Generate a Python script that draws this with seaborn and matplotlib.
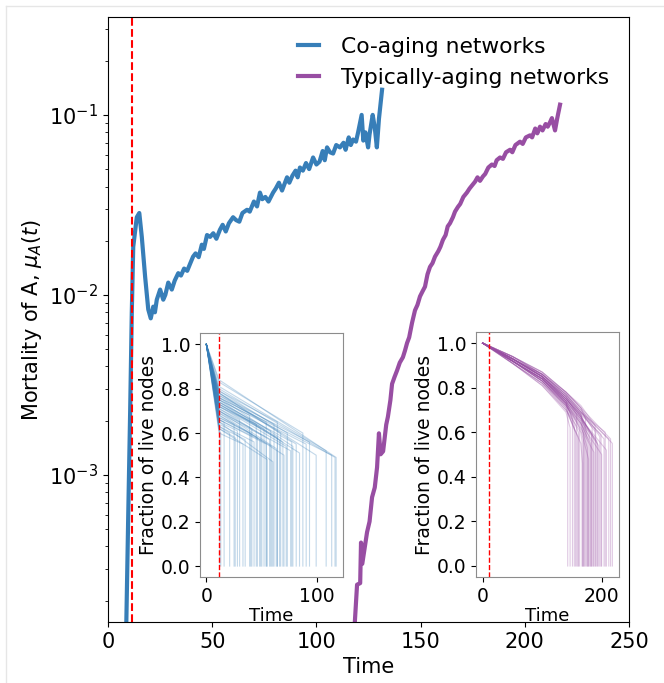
import pandas as pd
import seaborn as sns
import matplotlib.pyplot as plt
from matplotlib.lines import Line2D

# onset of the co-aging phase (red dashed line)
onset = 11.5

# mortality curves
co_t = [8.5, 9.7, 10.6, 11.4, 12.1, 13.8, 15.0, 16.2, 17.8, 19.3, 20.5, 21.7, 22.5, 23.4, 25.0,
        26.5, 27.5, 28.9, 30.6, 32.0, 33.7, 35.0, 36.5, 38.0, 39.5, 40.8, 42.0, 43.5, 45.0, 46.0,
        47.5, 49.0, 50.5, 52.0, 53.7, 55.0, 56.5, 58.0, 60.0, 61.5, 63.0, 64.5, 66.7, 68.0, 70.0,
        71.5, 72.9, 74.0, 75.5, 77.0, 79.2, 80.5, 82.0, 83.5, 85.9, 87.0, 88.5, 90.0, 91.0, 92.1,
        93.5, 95.0, 96.5, 98.4, 100.0, 101.5, 103.0, 104.0, 105.1, 106.5, 108.0, 109.5, 111.3,
        113.0, 114.0, 115.5, 116.5, 117.6, 119.0, 120.0, 121.7, 122.5, 123.5, 124.8, 125.5,
        127.0, 128.0, 129.0, 130.0, 131.5]
co_mu = [1.0e-4, 6.0e-4, 2.2e-3, 8.0e-3, 1.85e-2, 2.7e-2, 2.85e-2, 2.1e-2, 1.26e-2, 8.3e-3,
         7.4e-3, 8.6e-3, 8.0e-3, 9.4e-3, 1.07e-2, 9.4e-3, 1.0e-2, 1.17e-2, 1.07e-2, 1.2e-2,
         1.32e-2, 1.28e-2, 1.4e-2, 1.36e-2, 1.5e-2, 1.63e-2, 1.7e-2, 1.62e-2, 1.9e-2, 1.8e-2,
         2.15e-2, 2.1e-2, 2.2e-2, 2.05e-2, 2.3e-2, 2.45e-2, 2.25e-2, 2.5e-2, 2.7e-2, 2.6e-2,
         2.55e-2, 2.85e-2, 2.97e-2, 2.9e-2, 3.3e-2, 3.1e-2, 3.7e-2, 3.4e-2, 3.5e-2, 3.3e-2,
         3.7e-2, 3.9e-2, 4.2e-2, 3.8e-2, 4.5e-2, 4.2e-2, 4.6e-2, 4.9e-2, 4.5e-2, 5.1e-2,
         4.9e-2, 5.4e-2, 5.0e-2, 5.8e-2, 5.3e-2, 5.5e-2, 6.3e-2, 5.6e-2, 6.6e-2, 6.2e-2,
         6.1e-2, 6.8e-2, 6.6e-2, 7.0e-2, 6.4e-2, 7.5e-2, 6.8e-2, 7.3e-2, 7.1e-2, 8.0e-2,
         1.0e-1, 7.2e-2, 8.0e-2, 6.6e-2, 7.8e-2, 1.0e-1, 8.5e-2, 6.6e-2, 9.5e-2, 1.38e-1]

typ_t = [117.5, 119.5, 121.0, 121.4, 122.0, 124.3, 125.5, 126.7, 128.0, 129.1, 130.0, 130.8,
         132.0, 133.5, 134.3, 135.5, 136.3, 137.5, 138.7, 140.0, 141.5, 142.5, 143.5, 144.5,
         145.9, 147.3, 148.5, 149.7, 151.0, 152.1, 153.3, 154.5, 155.7, 156.9, 158.5, 159.5,
         160.7, 162.0, 163.0, 164.1, 165.5, 166.5, 167.9, 169.0, 170.5, 172.2, 173.5, 175.0,
         176.1, 177.3, 178.5, 179.9, 181.0, 182.5, 184.2, 185.5, 186.5, 188.1, 189.5, 191.0,
         192.9, 194.0, 195.5, 197.7, 199.0, 200.5, 202.5, 203.5, 205.0, 206.0, 207.3, 208.5,
         210.0, 211.0, 212.1, 213.0, 214.5, 215.5, 216.9]
typ_mu = [1.0e-4, 2.45e-4, 2.5e-4, 4.2e-4, 3.2e-4, 4.8e-4, 5.5e-4, 7.5e-4, 8.5e-4, 1.1e-3,
          1.7e-3, 1.3e-3, 1.35e-3, 1.9e-3, 2.1e-3, 2.6e-3, 3.2e-3, 3.5e-3, 3.8e-3, 4.2e-3,
          4.5e-3, 4.9e-3, 5.4e-3, 5.8e-3, 7.0e-3, 8.2e-3, 8.8e-3, 9.8e-3, 1.05e-2, 1.11e-2,
          1.3e-2, 1.43e-2, 1.5e-2, 1.63e-2, 1.75e-2, 1.85e-2, 2.02e-2, 2.15e-2, 2.4e-2, 2.5e-2,
          2.7e-2, 2.9e-2, 3.08e-2, 3.2e-2, 3.5e-2, 3.7e-2, 3.9e-2, 4.1e-2, 4.25e-2, 4.5e-2,
          4.3e-2, 4.55e-2, 4.7e-2, 5.1e-2, 5.3e-2, 5.2e-2, 5.6e-2, 5.8e-2, 5.7e-2, 6.2e-2,
          6.4e-2, 6.2e-2, 6.8e-2, 7.1e-2, 6.9e-2, 7.5e-2, 7.7e-2, 7.5e-2, 8.4e-2, 7.9e-2,
          8.6e-2, 8.2e-2, 8.9e-2, 8.6e-2, 9.1e-2, 9.6e-2, 8.2e-2, 9.5e-2, 1.14e-1]

# left inset: co-aging runs (fraction at onset, death time, fraction at death)
co_f0 = [0.84, 0.80, 0.78, 0.76, 0.83, 0.78, 0.76, 0.74, 0.79, 0.72, 0.77, 0.75, 0.73, 0.70,
         0.78, 0.68, 0.74, 0.71, 0.76, 0.66, 0.73, 0.69, 0.72, 0.64, 0.70, 0.67, 0.75, 0.63,
         0.71, 0.65, 0.62, 0.68, 0.63, 0.66, 0.61, 0.64, 0.77, 0.70, 0.73, 0.67, 0.65, 0.62,
         0.81, 0.74, 0.69, 0.79, 0.66, 0.72, 0.60, 0.75]
co_death_t = [117, 116, 99, 113, 87, 81, 78, 77, 73, 72, 67, 66, 64, 63, 61, 59, 58, 57, 54, 54,
              52, 50, 49, 43, 41, 40, 39, 35, 30, 28, 26, 25, 21, 16, 13, 12, 93, 76, 69, 46,
              60, 55, 108, 84, 70, 64, 48, 45, 33, 90]
co_death_f = [0.49, 0.49, 0.50, 0.50, 0.60, 0.55, 0.54, 0.56, 0.60, 0.54, 0.60, 0.57, 0.58, 0.53,
              0.64, 0.54, 0.61, 0.57, 0.65, 0.55, 0.62, 0.59, 0.62, 0.56, 0.62, 0.60, 0.68, 0.57,
              0.66, 0.61, 0.58, 0.64, 0.60, 0.65, 0.60, 0.63, 0.56, 0.52, 0.56, 0.58, 0.47, 0.48,
              0.52, 0.51, 0.50, 0.65, 0.57, 0.64, 0.55, 0.55]

# right inset: typically-aging runs (fraction at t=50, 100, 140, 165, death time, fraction at death)
typ_f50 = [0.93, 0.94, 0.92, 0.93, 0.92, 0.93, 0.92, 0.93, 0.91, 0.94, 0.92, 0.93, 0.92, 0.94,
           0.92, 0.93, 0.91, 0.93, 0.92, 0.94, 0.92, 0.93, 0.91, 0.93, 0.92, 0.93, 0.92, 0.93,
           0.91, 0.93, 0.92, 0.94, 0.92, 0.93, 0.91, 0.93, 0.92, 0.93, 0.92, 0.94]
typ_f100 = [0.86, 0.87, 0.84, 0.85, 0.83, 0.86, 0.84, 0.85, 0.82, 0.86, 0.84, 0.85, 0.83, 0.87,
            0.84, 0.85, 0.81, 0.85, 0.84, 0.86, 0.83, 0.85, 0.81, 0.84, 0.83, 0.85, 0.84, 0.86,
            0.82, 0.85, 0.83, 0.87, 0.84, 0.85, 0.82, 0.86, 0.83, 0.85, 0.84, 0.86]
typ_f140 = [0.77, 0.78, 0.74, 0.76, 0.73, 0.78, 0.75, 0.76, 0.72, 0.77, 0.74, 0.75, 0.72, 0.78,
            0.73, 0.75, 0.70, 0.74, 0.73, 0.76, 0.71, 0.74, 0.69, 0.73, 0.72, 0.75, 0.74, 0.77,
            0.70, 0.75, 0.72, 0.78, 0.74, 0.76, 0.71, 0.76, 0.73, 0.75, 0.73, 0.77]
typ_f165 = [0.70, 0.71, 0.66, 0.69, 0.64, 0.71, 0.67, 0.69, 0.62, 0.70, 0.66, 0.68, 0.63, 0.71,
            0.65, 0.68, 0.60, None, None, None, None, None, None, None, 0.61, 0.67, 0.65, 0.69,
            0.55, 0.67, 0.64, 0.72, 0.66, 0.68, None, 0.68, 0.64, 0.67, None, 0.69]
typ_death_t = [218, 215, 208, 204, 200, 197, 193, 190, 187, 184, 182, 179, 176, 173, 170, 169,
               167, 163, 161, 158, 156, 151, 147, 143, 178, 186, 195, 212, 168, 175, 181, 189,
               192, 199, 160, 171, 177, 183, 154, 206]
typ_death_f = [0.55, 0.57, 0.52, 0.57, 0.50, 0.58, 0.55, 0.60, 0.51, 0.62, 0.56, 0.60, 0.53, 0.66,
               0.58, 0.62, 0.56, 0.62, 0.60, 0.68, 0.60, 0.66, 0.62, 0.70, 0.48, 0.58, 0.54, 0.57,
               0.46, 0.61, 0.55, 0.63, 0.56, 0.59, 0.58, 0.63, 0.57, 0.59, 0.63, 0.60]

blue = '#377eb8'
purple = '#984ea3'

# build long tables for the inset trajectories
rows = []
for i, (f0, T, fd) in enumerate(zip(co_f0, co_death_t, co_death_f)):
    for t, f in [(0, 1.0), (onset, f0), (T, fd), (T, 0.0)]:
        rows.append((i, t, f))
co_runs = pd.DataFrame(rows, columns=['run', 't', 'f'])

rows = []
for i, (a, b, c, d, T, fd) in enumerate(zip(typ_f50, typ_f100, typ_f140, typ_f165,
                                             typ_death_t, typ_death_f)):
    pts = [(0, 1.0), (50, a), (100, b), (140, c), (165, d), (T, fd), (T, 0.0)]
    for t, f in pts:
        if f is not None:
            rows.append((i, t, f))
typ_runs = pd.DataFrame(rows, columns=['run', 't', 'f'])

fig = plt.figure(figsize=(6.64, 6.83), dpi=100)

# faint frame of the original screenshot
fig.add_artist(Line2D([6/664, 6/664], [0, 1 - 6/683], color='#e6e6e6', lw=1))
fig.add_artist(Line2D([6/664, 1], [1 - 6/683, 1 - 6/683], color='#e6e6e6', lw=1))

ax = fig.add_axes([0.1627, 0.0893, 0.7846, 0.8858])
sns.lineplot(x=co_t, y=co_mu, ax=ax, color=blue, lw=3, sort=False, label='Co-aging networks')
sns.lineplot(x=typ_t, y=typ_mu, ax=ax, color=purple, lw=3, sort=False,
             label='Typically-aging networks')
ax.axvline(onset, color='red', ls='--', lw=1.5)
ax.set_yscale('log')
ax.set_xlim(0, 250)
ax.set_ylim(1.52e-4, 0.35)
ax.set_xlabel('Time', fontsize=15)
ax.set_ylabel('Mortality of A, $\\mu_A(t)$', fontsize=15)
ax.tick_params(labelsize=15)
ax.legend(frameon=False, fontsize=15.7, loc='upper right', handlelength=1.0,
          handletextpad=1.0)

# insets
for pos, runs, col, xt in [([0.301, 0.155, 0.215, 0.357], co_runs, blue, [0, 100]),
                           ([0.717, 0.155, 0.215, 0.359], typ_runs, purple, [0, 200])]:
    ins = fig.add_axes(pos)
    sns.lineplot(data=runs, x='t', y='f', units='run', estimator=None, sort=False,
                 color=col, alpha=0.3, lw=0.8, ax=ins)
    ins.axvline(onset, color='red', ls='--', lw=1)
    ins.set_xticks(xt)
    ins.set_yticks([0.0, 0.2, 0.4, 0.6, 0.8, 1.0])
    ins.set_xlabel('Time', fontsize=13, labelpad=1)
    ins.set_ylabel('Fraction of live nodes', fontsize=13.5, labelpad=2)
    ins.tick_params(labelsize=13.5)
    for s in ins.spines.values():
        s.set_color('0.55')

fig.savefig('out.png', dpi=100)
